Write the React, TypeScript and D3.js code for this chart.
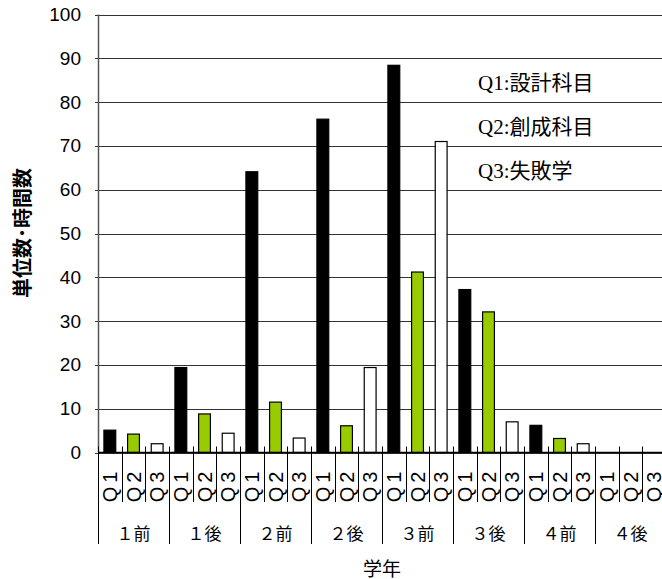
import React from "react";
import * as d3 from "d3";

const groups = ["１前", "１後", "２前", "２後", "３前", "３後", "４前", "４後"];
const series = ["Q1", "Q2", "Q3"];
const q1 = [5.1, 19.4, 64.1, 76.1, 88.4, 37.2, 6.2, 0];
const q2 = [4.2, 8.8, 11.5, 6.1, 41.2, 32.1, 3.2, 0];
const q3 = [2.0, 4.4, 3.3, 19.4, 71.0, 7.0, 2.0, 0];
const yTicks = [0, 10, 20, 30, 40, 50, 60, 70, 80, 90, 100];
const legendLabels = ["Q1:設計科目", "Q2:創成科目", "Q3:失敗学"];
const yTitle = "単位数･時間数";
const xTitle = "学年";

const colors = ["#000000", "#99cc00", "#ffffff"];

const W = 662;
const H = 579;
const margin = { top: 14.5, left: 98, bottom: 452.5, right: 666 };

const App: React.FC = () => {
  const values = [q1, q2, q3];
  const cells = groups.flatMap((g, gi) =>
    series.map((s, si) => ({ key: `${g}-${s}`, group: g, gi, s, si, v: values[si][gi] }))
  );

  const x = d3
    .scaleBand<string>()
    .domain(cells.map((c) => c.key))
    .range([margin.left, margin.right])
    .padding(0);
  const bw = x.bandwidth();

  const y = d3.scaleLinear().domain([0, 100]).range([margin.bottom, margin.top]);

  const groupX = d3
    .scaleBand<string>()
    .domain(groups)
    .range([margin.left, margin.right])
    .padding(0);

  const sans = "'Liberation Sans', Arial, 'Noto Sans CJK JP', sans-serif";
  const cjk = "'Noto Sans CJK JP', sans-serif";

  return (
    <svg
      width={W}
      height={H}
      style={{ position: "absolute", left: 0, top: 0, background: "#fff" }}
    >
      {/* grid + y ticks */}
      {yTicks.map((t) => (
        <g key={t}>
          <line
            x1={margin.left - 3}
            x2={margin.right}
            y1={Math.round(y(t)) + 0.5}
            y2={Math.round(y(t)) + 0.5}
            stroke="#333"
            strokeWidth={1}
          />
          <text
            x={81}
            y={y(t)}
            textAnchor="end"
            dominantBaseline="central"
            fontFamily={sans}
            fontSize={19}
            fill="#000"
          >
            {t}
          </text>
        </g>
      ))}

      {/* bars */}
      {cells.map((c) => {
        if (c.v <= 0) return null;
        return (
          <rect
            key={c.key}
            x={(x(c.key) ?? 0) + bw * 0.25}
            y={y(c.v)}
            width={bw * 0.5}
            height={y(0) - y(c.v)}
            fill={colors[c.si]}
            stroke="#000"
            strokeWidth={1.2}
          />
        );
      })}

      {/* y axis */}
      <line
        x1={margin.left + 0.5}
        x2={margin.left + 0.5}
        y1={margin.top}
        y2={margin.bottom}
        stroke="#555"
        strokeWidth={1.5}
      />
      {/* x axis */}
      <line
        x1={margin.left}
        x2={margin.right}
        y1={margin.bottom}
        y2={margin.bottom}
        stroke="#000"
        strokeWidth={1.5}
      />

      {/* category separators, long ones between years */}
      {cells.map((c) => {
        const xx = Math.round(x(c.key) ?? 0) + 0.5;
        return (
          <line
            key={`sep-${c.key}`}
            x1={xx}
            x2={xx}
            y1={margin.bottom - 6}
            y2={c.si === 0 ? 544 : 502}
            stroke="#000"
            strokeWidth={1}
          />
        );
      })}

      {/* category labels */}
      {cells.map((c) => {
        const cx = (x(c.key) ?? 0) + bw / 2;
        return (
          <text
            key={`lab-${c.key}`}
            transform={`translate(${cx},485) rotate(-90)`}
            textAnchor="middle"
            dominantBaseline="central"
            fontFamily={sans}
            fontSize={20}
            letterSpacing={4}
            fill="#000"
          >
            {c.s}
          </text>
        );
      })}

      {/* group labels */}
      {groups.map((g) => (
        <text
          key={`g-${g}`}
          x={(groupX(g) ?? 0) + groupX.bandwidth() / 2}
          y={532}
          textAnchor="middle"
          dominantBaseline="central"
          fontFamily={cjk}
          fontSize={17}
          fill="#000"
        >
          {g}
        </text>
      ))}

      {/* legend */}
      {legendLabels.map((l, i) => (
        <text
          key={l}
          x={478}
          y={83 + i * 44}
          dominantBaseline="central"
          fontFamily="'Liberation Serif', 'Noto Sans CJK JP', serif"
          fontSize={21}
          fill="#000"
        >
          {l}
        </text>
      ))}

      {/* axis titles */}
      <text
        transform={`translate(21,233) rotate(-90)`}
        textAnchor="middle"
        dominantBaseline="central"
        fontFamily={cjk}
        fontWeight="bold"
        fontSize={20}
        fill="#000"
      >
        {yTitle}
      </text>
      <text
        x={382}
        y={567}
        textAnchor="middle"
        dominantBaseline="central"
        fontFamily={cjk}
        fontSize={19}
        fill="#000"
      >
        {xTitle}
      </text>
    </svg>
  );
};

export default App;
